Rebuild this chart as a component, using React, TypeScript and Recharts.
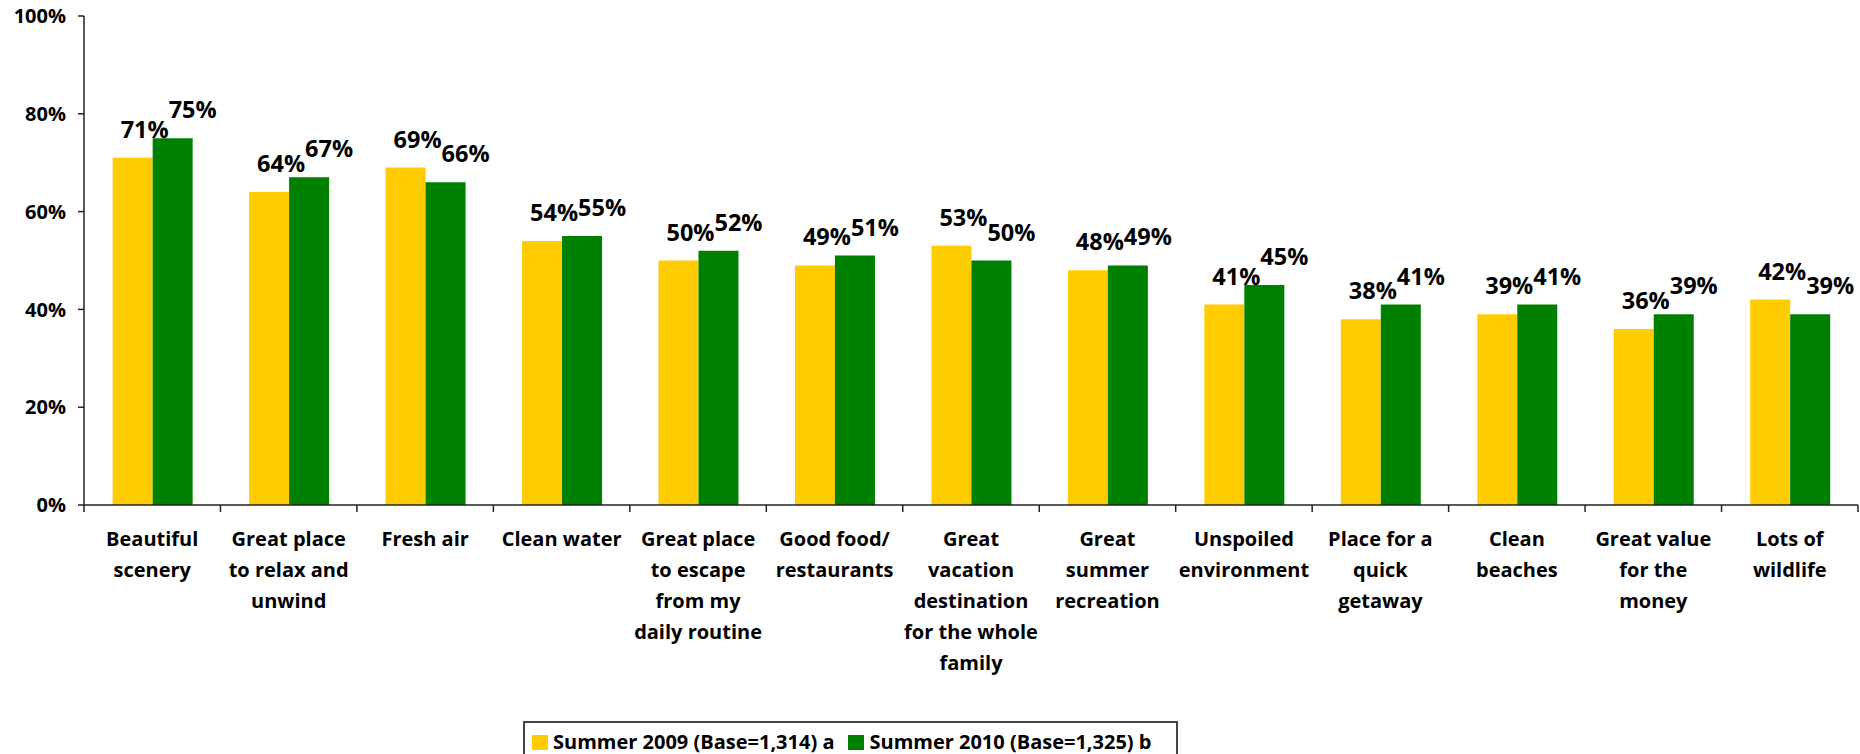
import React from 'react';
import { BarChart, Bar, XAxis, YAxis, Legend, LabelList } from 'recharts';

const categories = [
  'Beautiful\nscenery',
  'Great place\nto relax and\nunwind',
  'Fresh air',
  'Clean water',
  'Great place\nto escape\nfrom my\ndaily routine',
  'Good food/\nrestaurants',
  'Great\nvacation\ndestination\nfor the whole\nfamily',
  'Great\nsummer\nrecreation',
  'Unspoiled\nenvironment',
  'Place for a\nquick\ngetaway',
  'Clean\nbeaches',
  'Great value\nfor the\nmoney',
  'Lots of\nwildlife',
];
const summer2009 = [71, 64, 69, 54, 50, 49, 53, 48, 41, 38, 39, 36, 42];
const summer2010 = [75, 67, 66, 55, 52, 51, 50, 49, 45, 41, 41, 39, 39];
const yTicks = [0, 20, 40, 60, 80, 100];
const seriesNames = ['Summer 2009 (Base=1,314) a', 'Summer 2010 (Base=1,325) b'];
const seriesColors = ['#FFCC00', '#008000'];

const data = categories.map((name, i) => ({
  name,
  s2009: summer2009[i],
  s2010: summer2010[i],
}));

const W = 1860;
const H = 754;
const FONT = '"Open Sans", "Noto Sans", sans-serif';
const LEFT = 84;
const RIGHT = 2;
const BAND = (W - LEFT - RIGHT) / categories.length;

function CategoryTick(props: any) {
  const { x, y, payload, index } = props;
  const lines = String(payload.value).split('\n');
  return (
    <g>
      <line x1={x - BAND / 2} x2={x - BAND / 2} y1={y} y2={y + 7} stroke="#222" strokeWidth={1.5} />
      {index === categories.length - 1 && (
        <line x1={x + BAND / 2} x2={x + BAND / 2} y1={y} y2={y + 7} stroke="#222" strokeWidth={1.5} />
      )}
      <text x={x} y={y + 41} textAnchor="middle" fontFamily={FONT} fontWeight={700} fontSize={20} fill="#000">
        {lines.map((l, i) => (
          <tspan key={i} x={x} dy={i === 0 ? 0 : 31}>
            {l}
          </tspan>
        ))}
      </text>
    </g>
  );
}

// Excel-style data labels sit a little to the right of each bar's centre
const makeLabel = (shift: number) =>
  function ValueLabel(props: any) {
    const { x, y, width, value } = props;
    return (
      <text
        x={x + width / 2 + shift}
        y={y - 20}
        textAnchor="middle"
        fontFamily={FONT}
        fontWeight={700}
        fontSize={23.5}
        fill="#000"
      >
        {value}%
      </text>
    );
  };
const Label2009 = makeLabel(12);
const Label2010 = makeLabel(20);

function LegendBox() {
  return (
    <div
      style={{
        boxSizing: 'border-box',
        width: 655,
        height: 44,
        border: '2px solid #444',
        display: 'flex',
        alignItems: 'flex-start',
        paddingTop: 8,
        paddingLeft: 7,
        fontFamily: FONT,
        fontWeight: 700,
        fontSize: 20,
        color: '#000',
        lineHeight: '22px',
        whiteSpace: 'nowrap',
      }}
    >
      {seriesNames.map((n, i) => (
        <span key={n} style={{ display: 'flex', alignItems: 'center', marginRight: 14 }}>
          <span style={{ width: 16, height: 15, background: seriesColors[i], marginRight: 5, display: 'inline-block' }} />
          {n}
        </span>
      ))}
    </div>
  );
}

export default function App() {
  return (
    <div style={{ position: 'absolute', left: 0, top: 0, width: W, height: H, background: '#fff' }}>
      <BarChart
        width={W}
        height={H}
        data={data}
        margin={{ top: 16, right: RIGHT, left: 0, bottom: 0 }}
        barCategoryGap="21%"
        barGap={0}
      >
        <YAxis
          width={LEFT}
          domain={[0, 100]}
          ticks={yTicks}
          tickFormatter={(v) => `${v}%`}
          tickSize={6}
          tickMargin={12}
          axisLine={{ stroke: '#222', strokeWidth: 1.5 }}
          tickLine={{ stroke: '#222', strokeWidth: 1.5 }}
          tick={{ fontFamily: FONT, fontWeight: 700, fontSize: 20, fill: '#000' }}
        />
        <XAxis
          dataKey="name"
          height={216}
          interval={0}
          tickSize={0}
          tickMargin={0}
          tickLine={false}
          axisLine={{ stroke: '#222', strokeWidth: 1.5 }}
          tick={<CategoryTick />}
        />
        <Legend
          verticalAlign="bottom"
          height={33}
          content={<LegendBox />}
          wrapperStyle={{ left: 523, width: 655, height: 33, overflow: 'hidden' }}
        />
        <Bar dataKey="s2009" name={seriesNames[0]} fill={seriesColors[0]} isAnimationActive={false}>
          <LabelList dataKey="s2009" content={<Label2009 />} />
        </Bar>
        <Bar dataKey="s2010" name={seriesNames[1]} fill={seriesColors[1]} isAnimationActive={false}>
          <LabelList dataKey="s2010" content={<Label2010 />} />
        </Bar>
      </BarChart>
    </div>
  );
}
